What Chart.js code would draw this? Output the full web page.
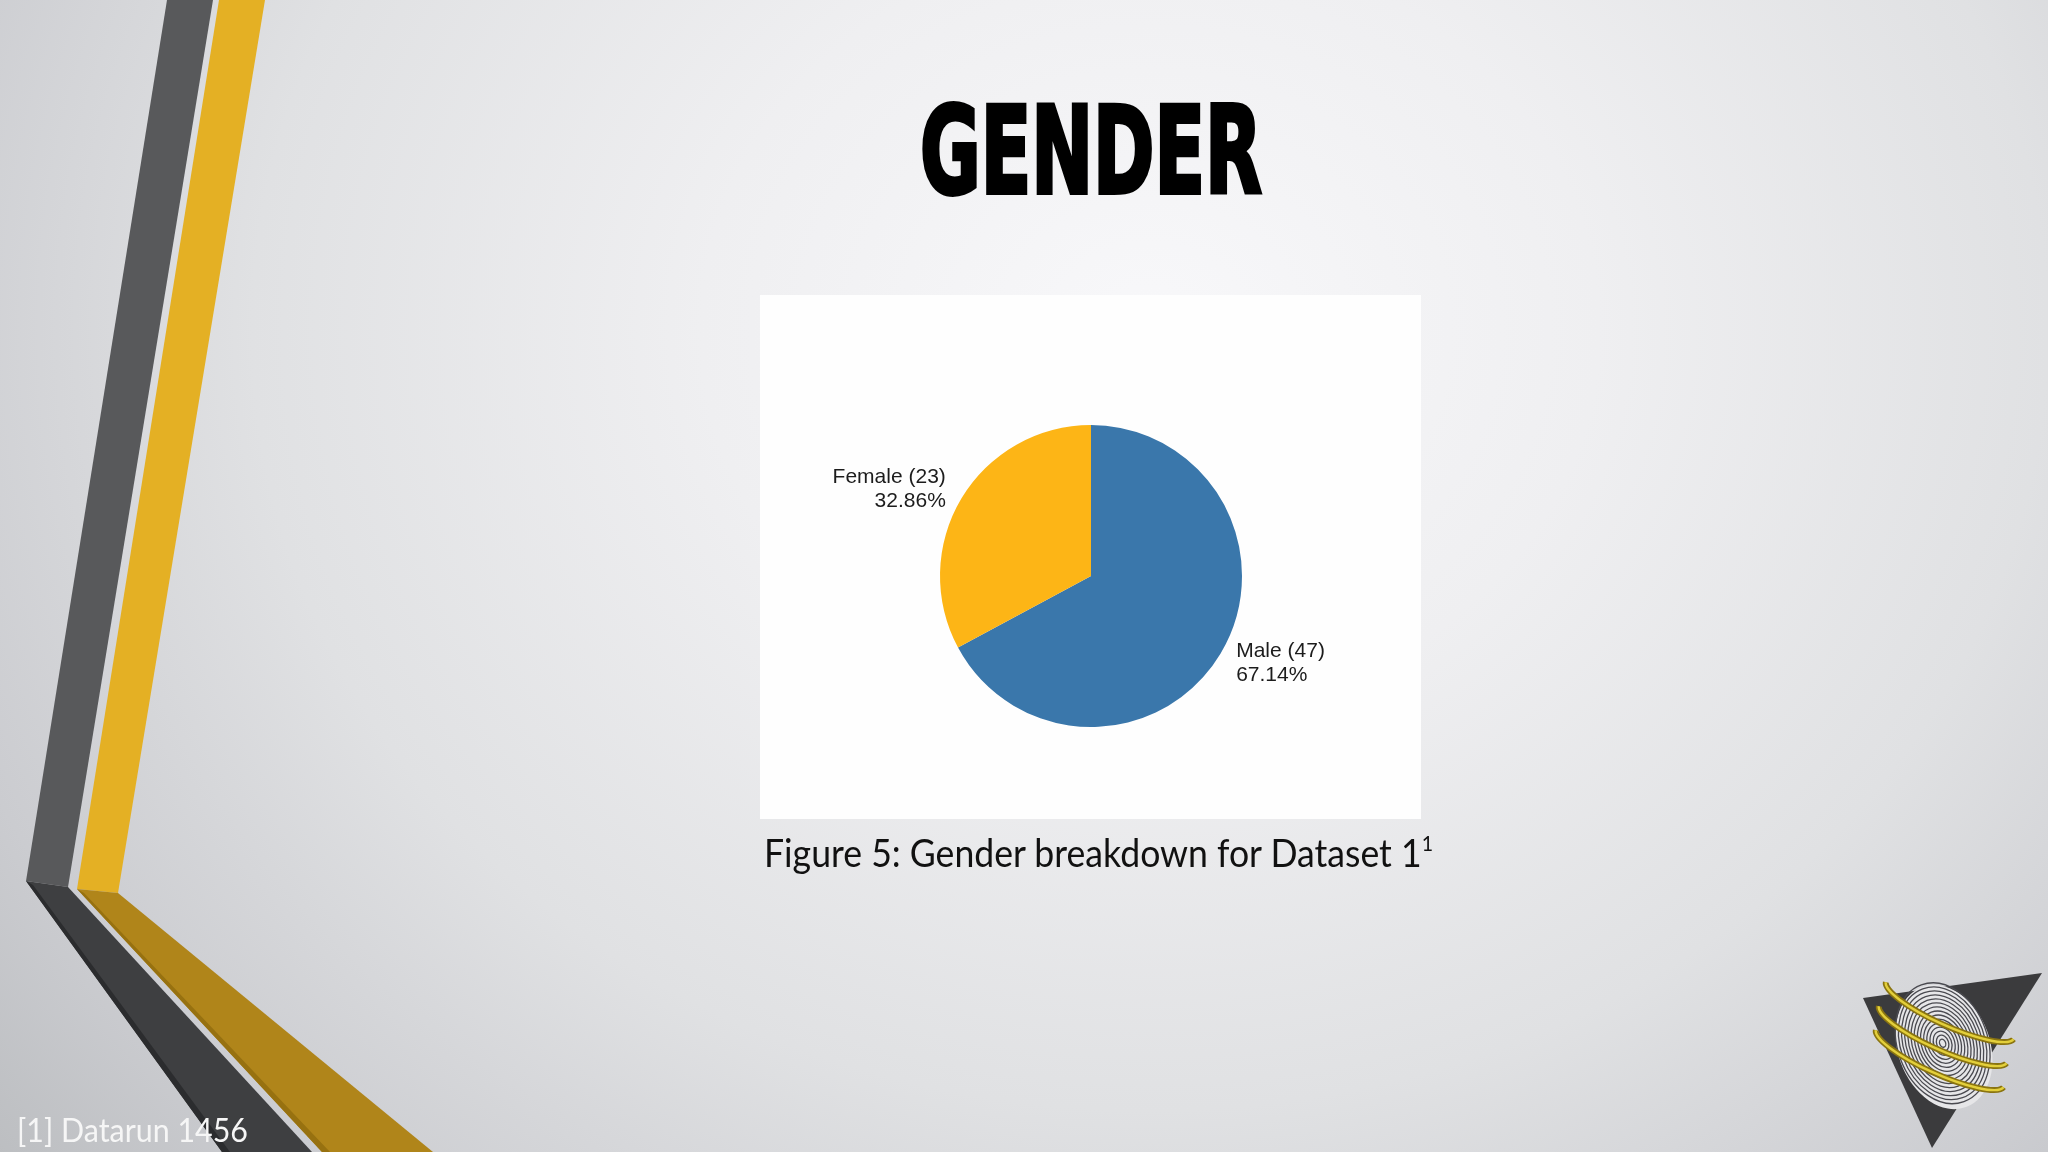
<!DOCTYPE html>
<html>
<head>
<meta charset="utf-8">
<script src="https://cdn.jsdelivr.net/npm/chart.js@4.4.1/dist/chart.umd.min.js"></script>
<style>
  html, body { margin: 0; padding: 0; }
  body { width: 2048px; height: 1152px; position: relative; overflow: hidden; }
  #bg { position: absolute; left: 0; top: 0; }
  .txt { position: absolute; white-space: nowrap; transform-origin: 0 50%; }
  #title {
    left: 920px; top: 90px; font-family: "Liberation Sans Narrow", "DejaVu Sans Condensed", "Liberation Sans", sans-serif;
    font-weight: 700; font-size: 122px; line-height: 122px; color: #000; -webkit-text-stroke: 4px #000;
  }
  #box { position: absolute; left: 760px; top: 295px; width: 661px; height: 524px; background: #fefefe; }
  #caption { left: 764px; top: 828px; font-family: Lato, "Open Sans", sans-serif; font-size: 38px; line-height: 48px; color: #111; }
  #caption sup { font-size: 0.55em; vertical-align: 0; position: relative; top: -0.75em; }
  #footer { left: 17px; top: 1110px; font-family: Lato, "Open Sans", sans-serif; font-size: 32px; line-height: 40px; color: #f6f6f6; }
</style>
</head>
<body>
<canvas id="bg" width="2048" height="1152"></canvas>
<div id="title" class="txt">GENDER</div>
<div id="box"><canvas id="pie" width="661" height="524"></canvas></div>
<div id="caption" class="txt">Figure 5: Gender breakdown for Dataset 1<sup>1</sup></div>
<div id="footer" class="txt">[1] Datarun 1456</div>
<script>
// Values
const categories = ["Male", "Female"]
const counts = [47, 23]
const sliceColors = ["#3a77ab", "#fdb516"]

const LABEL_FONT = '21px "Liberation Sans", Arial, sans-serif'
const LABEL_COLOR = "#1c1c1c"
const LABEL_OFFSET = 1.12
const LINE_GAP = 24

// Stretch a text element to the width it has on the slide.
function fitWidth(id, target) {
  const el = document.getElementById(id)
  const w = el.getBoundingClientRect().width
  el.style.transform = "scaleX(" + (target / w) + ")"
}

function drawBackground() {
  const ctx = document.getElementById("bg").getContext("2d")
  ctx.save()
  ctx.translate(1150, 330)
  ctx.scale(1.15, 1)
  const g = ctx.createRadialGradient(0, 0, 0, 0, 0, 1300)
  g.addColorStop(0, "#f8f8fa")
  g.addColorStop(0.3, "#efeff1")
  g.addColorStop(0.6, "#e0e1e3")
  g.addColorStop(0.85, "#cbccd0")
  g.addColorStop(1, "#bcbec1")
  ctx.fillStyle = g
  ctx.fillRect(-1400, -600, 3000, 2000)
  ctx.restore()

  const poly = (pts, color) => {
    ctx.beginPath()
    pts.forEach(([x, y], i) => (i ? ctx.lineTo(x, y) : ctx.moveTo(x, y)))
    ctx.closePath()
    ctx.fillStyle = color
    ctx.fill()
  }
  // left stripes
  poly([[167, 0], [213, 0], [68, 887], [26, 881]], "#58595b")
  poly([[219, 0], [265, 0], [118, 893], [77, 889]], "#e4b024")
  poly([[26, 881], [68, 887], [312, 1152], [222, 1152]], "#3e3f41")
  poly([[26, 881], [33, 885], [230, 1152], [222, 1152]], "#2b2c2e")
  poly([[77, 889], [118, 893], [433, 1152], [322, 1152]], "#b0851a")
  poly([[77, 889], [84, 893], [330, 1152], [322, 1152]], "#977110")

  // logo, bottom right
  poly([[1863, 998], [2042, 973], [1932, 1148]], "#3b3b3d")
  ctx.save()
  ctx.translate(1944, 1047)
  ctx.rotate(-0.35)
  ctx.beginPath()
  ctx.ellipse(0, 0, 46, 64, 0, 0, Math.PI * 2)
  ctx.fillStyle = "#e6e6e8"
  ctx.fill()
  ctx.strokeStyle = "#4a4a50"
  ctx.lineWidth = 1.3
  for (let r = 3; r < 46; r += 3) {
    ctx.beginPath()
    ctx.ellipse(0, -4, r, r * 1.38, 0, 0, Math.PI * 2)
    ctx.stroke()
  }
  ctx.restore()
  const ring = (cx, cy) => {
    ctx.save()
    ctx.translate(cx, cy)
    ctx.rotate(0.42)
    ctx.beginPath()
    ctx.ellipse(0, 0, 70, 16, 0, 0.05, Math.PI - 0.05)
    ctx.strokeStyle = "#8a7410"
    ctx.lineWidth = 6
    ctx.stroke()
    ctx.strokeStyle = "#e3cf3a"
    ctx.lineWidth = 2.5
    ctx.stroke()
    ctx.restore()
  }
  ring(1950, 1010)
  ring(1943, 1034)
  ring(1940, 1058)
}

// Two-line labels outside each slice: "Name (n)" and the share in percent.
const sliceLabels = {
  id: "sliceLabels",
  afterDatasetsDraw(chart) {
    const { ctx } = chart
    const total = counts.reduce((a, b) => a + b, 0)
    ctx.save()
    ctx.font = LABEL_FONT
    ctx.fillStyle = LABEL_COLOR
    ctx.textBaseline = "middle"
    chart.getDatasetMeta(0).data.forEach((arc, i) => {
      const { x, y, startAngle, endAngle, outerRadius } = arc.getProps(
        ["x", "y", "startAngle", "endAngle", "outerRadius"], true)
      const mid = (startAngle + endAngle) / 2
      const px = x + Math.cos(mid) * outerRadius * LABEL_OFFSET
      const py = y + Math.sin(mid) * outerRadius * LABEL_OFFSET
      ctx.textAlign = Math.cos(mid) < 0 ? "right" : "left"
      ctx.fillText(categories[i] + " (" + counts[i] + ")", px, py - LINE_GAP / 2)
      ctx.fillText((counts[i] / total * 100).toFixed(2) + "%", px, py + LINE_GAP / 2)
    })
    ctx.restore()
  }
}

drawBackground()

new Chart(document.getElementById("pie").getContext("2d"), {
  type: "pie",
  plugins: [sliceLabels],
  data: {
    labels: categories,
    datasets: [{ data: counts, backgroundColor: sliceColors, borderWidth: 0 }]
  },
  options: {
    responsive: false,
    animation: false,
    layout: { padding: { top: 130, bottom: 92, left: 180, right: 179 } },
    plugins: { legend: { display: false }, tooltip: { enabled: false } }
  }
})

fitWidth("title", 342)
fitWidth("caption", 669)
fitWidth("footer", 231)
</script>
</body>
</html>
